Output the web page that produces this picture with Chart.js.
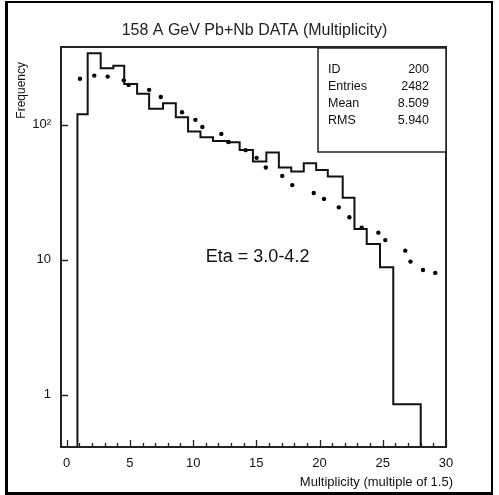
<!DOCTYPE html>
<html>
<head>
<meta charset="utf-8">
<title>158 A GeV Pb+Nb DATA (Multiplicity)</title>
<script src="https://cdn.jsdelivr.net/npm/chart.js@4.4.0/dist/chart.umd.min.js"></script>
<style>
  html, body { margin: 0; padding: 0; background: #fff; }
  #wrap { position: relative; width: 499px; height: 495px; overflow: hidden; }
  #wrap canvas { position: absolute; left: 0; top: 0; }
  #border {
    position: absolute; left: 5px; top: 1px; width: 483px; height: 489px;
    border-style: solid; border-color: #000; border-width: 2px 2px 3px 3px;
    pointer-events: none;
  }
</style>
</head>
<body>
<div id="wrap">
  <canvas id="multChart" width="499" height="495"></canvas>
  <div id="border"></div>
</div>
<script>
// histogram: bin edges along the multiplicity axis and counts per bin
var binEdges = [0.85, 1.66, 2.69, 3.69, 4.55, 5.57, 6.52, 7.62, 8.63, 9.6, 10.58, 11.57, 12.68,
                13.68, 14.73, 15.79, 16.78, 17.76, 18.75, 19.73, 20.65, 21.83, 22.76, 23.73,
                24.78, 25.83, 28.0];
var binCounts = [120, 340, 263, 274, 201, 170, 131.5, 145, 114, 89.2, 81.1, 76.1, 74.4,
                 65.3, 53.5, 62.4, 48.3, 45.1, 52, 46.4, 41.4, 28.9, 16.9, 13.1, 8.8, 0.85];

// dotted reference curve
var dotX = [1.05, 2.18, 3.24, 4.52, 4.90, 6.52, 7.44, 9.12, 10.18, 10.73, 12.23, 12.81, 14.15, 15.02,
            15.75, 17.05, 17.84, 19.54, 20.35, 21.52, 22.36, 23.33, 24.65, 25.2, 26.78, 27.19, 28.18, 29.15];
var dotY = [220, 232, 228, 214, 198, 182, 161, 124, 109, 96.6, 85.8, 74.8, 65, 57,
            48.3, 41.9, 35.8, 31.3, 28.3, 24.5, 20.7, 17.3, 15.9, 14, 11.7, 9.7, 8.4, 8.0];

var xTicks = [0, 5, 10, 15, 20, 25, 30];
var yTicks = [1, 10, 100];
var yTickLabels = ['1', '10', '10²'];

var statNames = ['ID', 'Entries', 'Mean', 'RMS'];
var statValues = ['200', '2482', '8.509', '5.940'];

var xMin = -0.45, xMax = 30;
var yMin = 0.41, yMax = 378;

var FONT = "'Liberation Sans', Arial, sans-serif";
var INK = '#111';

// step outline of the histogram, dropping to the floor at both ends
var histPoints = [{x: binEdges[0], y: 0.01}];
for (var i = 0; i < binCounts.length; i++) {
  histPoints.push({x: binEdges[i], y: binCounts[i]});
}
histPoints.push({x: binEdges[binEdges.length - 1], y: binCounts[binCounts.length - 1]});
histPoints.push({x: binEdges[binEdges.length - 1], y: 0.01});

var dotPoints = dotX.map(function(x, i) { return {x: x, y: dotY[i]}; });

// frame, inward tick marks, stats box and the labels around the plot
var decorations = {
  id: 'decorations',
  afterDraw: function(chart) {
    var ctx = chart.ctx;
    var a = chart.chartArea;
    var xs = chart.scales.x, ys = chart.scales.y;
    ctx.save();

    ctx.strokeStyle = '#222';
    ctx.lineWidth = 2;
    ctx.strokeRect(a.left, a.top, a.right - a.left, a.bottom - a.top);

    ctx.lineWidth = 1.3;
    ctx.beginPath();
    for (var v = Math.ceil(xMin); v <= xMax; v++) {
      var px = Math.round(xs.getPixelForValue(v)) + 0.5;
      var len = (v % 5 === 0) ? 7 : 4;
      ctx.moveTo(px, a.bottom);
      ctx.lineTo(px, a.bottom - len);
    }
    yTicks.forEach(function(t) {
      var py = Math.round(ys.getPixelForValue(t)) + 0.5;
      ctx.moveTo(a.left, py);
      ctx.lineTo(a.left + 7, py);
    });
    ctx.stroke();

    // statistics box in the top right corner
    var bx = a.right - 128, by = a.top + 1, bw = 128, bh = 104;
    ctx.fillStyle = '#fff';
    ctx.fillRect(bx, by, bw, bh);
    ctx.lineWidth = 1.5;
    ctx.strokeStyle = '#222';
    ctx.strokeRect(bx, by, bw, bh);
    ctx.fillStyle = INK;
    ctx.font = '12.5px ' + FONT;
    ctx.textBaseline = 'middle';
    statNames.forEach(function(name, i) {
      var ry = by + 22 + i * 16.9;
      ctx.textAlign = 'left';
      ctx.fillText(name, bx + 10, ry);
      ctx.textAlign = 'right';
      ctx.fillText(statValues[i], bx + bw - 17, ry);
    });

    // eta range label
    ctx.font = '18px ' + FONT;
    ctx.textAlign = 'center';
    ctx.fillText('Eta = 3.0-4.2', xs.getPixelForValue(15.1), ys.getPixelForValue(10.5));

    // title over the plot
    ctx.fillStyle = '#222';
    ctx.font = '16px ' + FONT;
    ctx.fillText('158 A GeV Pb+Nb DATA (Multiplicity)', (a.left + a.right) / 2 + 1, 31);

    // axis titles
    ctx.fillStyle = INK;
    ctx.font = '13px ' + FONT;
    ctx.textAlign = 'right';
    ctx.fillText('Multiplicity (multiple of 1.5)', a.right + 7, a.bottom + 35);

    ctx.translate(22, a.top + 15);
    ctx.rotate(-Math.PI / 2);
    ctx.font = '12px ' + FONT;
    ctx.textAlign = 'right';
    ctx.fillText('Frequency', 0, 0);

    ctx.restore();
  }
};

new Chart(document.getElementById('multChart'), {
  type: 'scatter',
  data: {
    datasets: [{
      type: 'line',
      data: histPoints,
      stepped: true,
      borderColor: INK,
      borderWidth: 2,
      pointRadius: 0,
      fill: false
    }, {
      data: dotPoints,
      backgroundColor: '#000',
      borderWidth: 0,
      pointRadius: 2.2
    }]
  },
  options: {
    responsive: false,
    animation: false,
    devicePixelRatio: 1,
    layout: { padding: { left: 0, right: 53, top: 47, bottom: 0 } },
    plugins: {
      legend: { display: false },
      tooltip: { enabled: false },
      title: { display: false }
    },
    scales: {
      x: {
        type: 'linear',
        min: xMin,
        max: xMax,
        grid: { display: false },
        border: { display: false },
        afterBuildTicks: function(scale) {
          scale.ticks = xTicks.map(function(v) { return {value: v}; });
        },
        afterFit: function(scale) { scale.height = 48; },
        ticks: {
          color: INK,
          padding: 1,
          maxRotation: 0,
          font: { family: FONT, size: 13 }
        }
      },
      y: {
        type: 'logarithmic',
        min: yMin,
        max: yMax,
        grid: { display: false },
        border: { display: false },
        afterBuildTicks: function(scale) {
          scale.ticks = yTicks.map(function(v) { return {value: v}; });
        },
        afterFit: function(scale) { scale.width = 61; },
        ticks: {
          color: INK,
          padding: 2,
          font: { family: FONT, size: 13 },
          callback: function(v) { return yTickLabels[yTicks.indexOf(v)]; }
        }
      }
    }
  },
  plugins: [decorations]
});
</script>
</body>
</html>
